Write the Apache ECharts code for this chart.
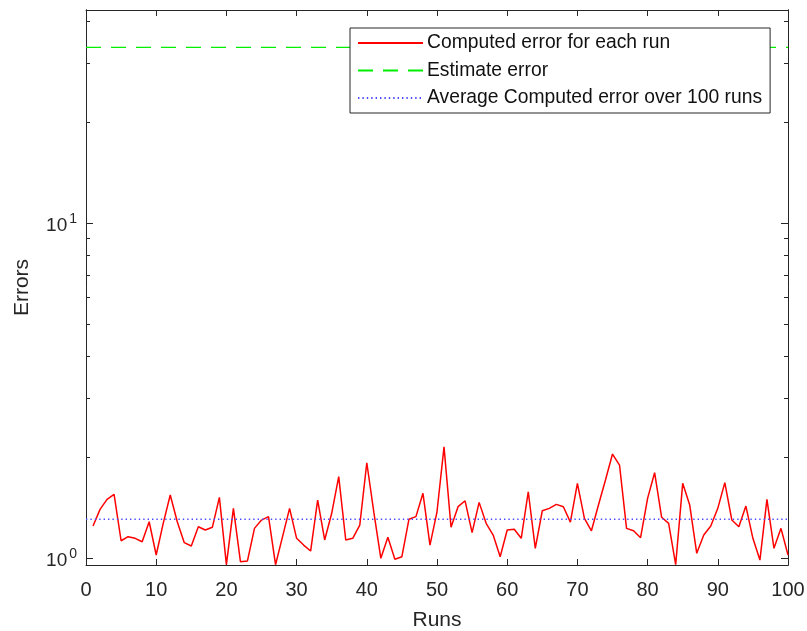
<!DOCTYPE html>
<html>
<head>
<meta charset="utf-8">
<title>Errors per run</title>
<script src="https://cdn.jsdelivr.net/npm/echarts@6/dist/echarts.min.js"></script>
<style>
    html, body { margin: 0; padding: 0; background: #fff; }
    #chart { width: 807px; height: 631px; }
</style>
</head>
<body>
<div id="chart"></div>
<script>
// computed error for runs 1..100
const errors = [
    1.246, 1.397, 1.497, 1.549, 1.126, 1.158, 1.145, 1.118, 1.283, 1.021,
    1.269, 1.542, 1.283, 1.111, 1.086, 1.240, 1.212, 1.235, 1.518, 0.955,
    1.407, 0.975, 0.980, 1.226, 1.298, 1.329, 0.955, 1.158, 1.407, 1.145,
    1.093, 1.049, 1.490, 1.132, 1.360, 1.749, 1.132, 1.145, 1.254, 1.925,
    1.370, 0.998, 1.153, 0.991, 1.009, 1.305, 1.329, 1.560, 1.093, 1.374,
    2.148, 1.235, 1.423, 1.482, 1.190, 1.466, 1.269, 1.171, 1.009, 1.212,
    1.218, 1.145, 1.577, 1.069, 1.384, 1.407, 1.446, 1.423, 1.280, 1.671,
    1.314, 1.206, 1.439, 1.709, 2.044, 1.895, 1.226, 1.206, 1.150, 1.507,
    1.798, 1.323, 1.269, 0.955, 1.671, 1.439, 1.033, 1.171, 1.246, 1.407,
    1.679, 1.298, 1.240, 1.429, 1.145, 0.986, 1.497, 1.069, 1.226, 1.021
];
const estimateError = 33.5;
const averageError = 1.305;
const xRange = [0, 100];
const yRange = [0.953, 43.3];
const yMajorTicks = [1, 10];
const yMinorTicks = [2, 3, 4, 5, 6, 7, 8, 9, 20, 30, 40];

const names = [
    'Computed error for each run',
    'Estimate error',
    'Average Computed error over 100 runs'
];

const axisColor = '#262626';
const font = 'Liberation Sans, Arial, Helvetica, sans-serif';

const chart = echarts.init(document.getElementById('chart'));

function xAxisDef(position, showLabel) {
    return {
        type: 'value',
        position: position,
        min: xRange[0],
        max: xRange[1],
        interval: 10,
        name: showLabel ? 'Runs' : '',
        nameLocation: 'middle',
        nameGap: 45,
        nameTextStyle: { color: axisColor, fontSize: 21, fontFamily: font },
        axisLine: { show: true, onZero: false, lineStyle: { color: axisColor, width: 1 } },
        axisTick: { show: true, inside: true, length: 6, lineStyle: { color: axisColor } },
        axisLabel: { show: showLabel, color: axisColor, fontSize: 20, fontFamily: font, margin: 15 },
        splitLine: { show: false }
    };
}

function yAxisDef(position, ticks, len, showLabel) {
    return {
        type: 'log',
        logBase: 10,
        position: position,
        min: yRange[0],
        max: yRange[1],
        name: showLabel ? 'Errors' : '',
        nameLocation: 'middle',
        nameGap: 53,
        nameTextStyle: { color: axisColor, fontSize: 21, fontFamily: font },
        axisLine: { show: true, onZero: false, lineStyle: { color: axisColor, width: 1 } },
        axisTick: { show: true, inside: true, length: len, customValues: ticks, lineStyle: { color: axisColor } },
        axisLabel: {
            show: showLabel,
            customValues: yMajorTicks,
            margin: 9,
            formatter: function (v) {
                return '{b|10}{s|' + Math.round(Math.log10(v)) + '}';
            },
            rich: {
                b: { color: axisColor, fontSize: 19, fontFamily: font, padding: [6, 0, 0, 0] },
                s: { color: axisColor, fontSize: 14, fontFamily: font, padding: [0, 0, 8, 2] }
            }
        },
        splitLine: { show: false }
    };
}

chart.setOption({
    animation: false,
    backgroundColor: '#fff',
    grid: { left: 86, right: 19, top: 10, bottom: 66, outerBoundsMode: 'none' },
    legend: {
        orient: 'vertical',
        left: 350,
        top: 28,
        padding: [4, 8, 4, 7],
        itemGap: 5.5,
        itemWidth: 65,
        itemHeight: 14,
        borderColor: axisColor,
        borderWidth: 1,
        borderRadius: 0,
        backgroundColor: '#fff',
        itemStyle: { opacity: 0 },
        textStyle: { color: '#111', fontSize: 19.3, fontFamily: font, lineHeight: 22, padding: [0, 0, 0, -1] },
        data: names
    },
    xAxis: [xAxisDef('bottom', true), xAxisDef('top', false)],
    yAxis: [
        yAxisDef('left', yMajorTicks, 7, true),
        yAxisDef('left', yMinorTicks, 4, false),
        yAxisDef('right', yMajorTicks, 7, false),
        yAxisDef('right', yMinorTicks, 4, false)
    ],
    series: [
        {
            name: names[0],
            type: 'line',
            symbol: 'none',
            lineStyle: { color: '#ff0000', width: 1.5 },
            itemStyle: { color: '#ff0000' },
            data: errors.map((v, i) => [i + 1, v])
        },
        {
            name: names[1],
            type: 'line',
            symbol: 'none',
            lineStyle: { color: '#00ee00', width: 1.3, type: [15, 10] },
            itemStyle: { color: '#00ee00' },
            data: [[xRange[0], estimateError], [xRange[1], estimateError]]
        },
        {
            name: names[2],
            type: 'line',
            symbol: 'none',
            lineStyle: { color: '#4a4aff', width: 1.4, type: [1.4, 3] },
            itemStyle: { color: '#4a4aff' },
            data: [[xRange[0], averageError], [xRange[1], averageError]]
        }
    ]
});
</script>
</body>
</html>
